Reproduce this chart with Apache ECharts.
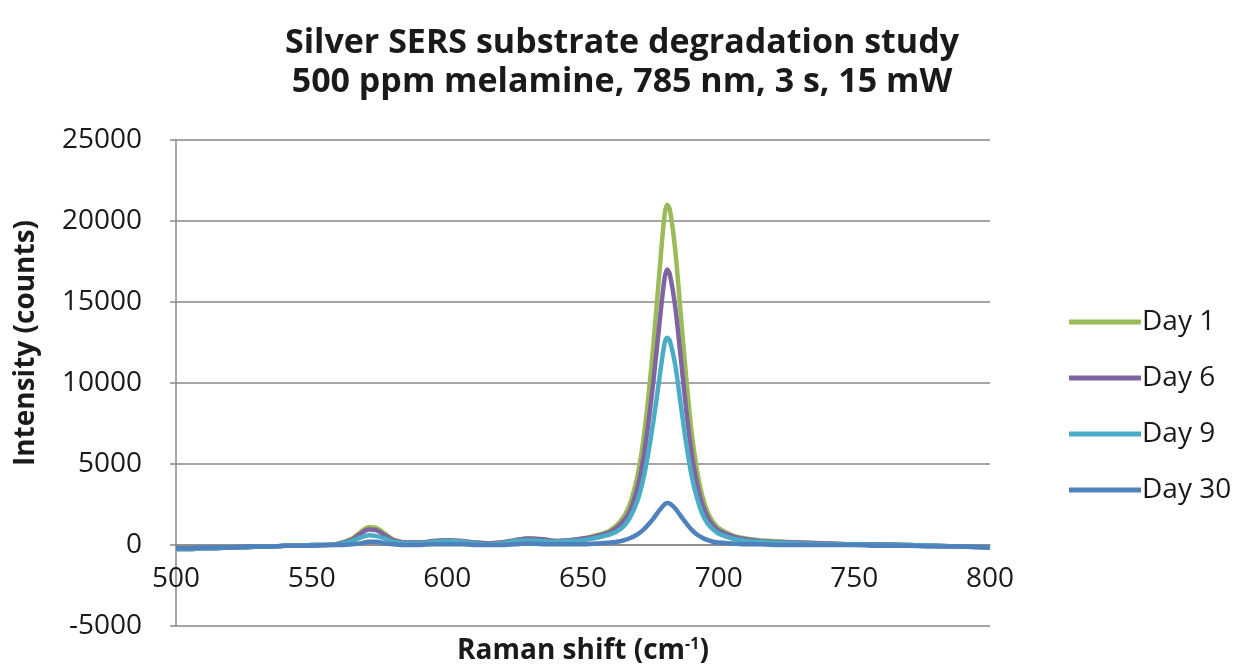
<!DOCTYPE html>
<html>
<head>
<meta charset="utf-8">
<script src="https://cdn.jsdelivr.net/npm/echarts@6/dist/echarts.min.js"></script>
<style>
  html, body { margin: 0; padding: 0; background: #fff; }
  #chart { width: 1244px; height: 666px; }
</style>
</head>
<body>
<div id="chart"></div>
<script>
// Raman shift positions (cm-1)
const shifts = [500, 505, 510, 515, 520, 525, 530, 535, 540, 545, 550, 555, 560,
  565, 568, 571, 574, 577, 580,
  585, 590, 595, 600, 605, 610, 615, 620, 625, 630, 635, 640, 645, 650, 655, 660,
  664, 667, 670, 672, 674, 676, 678, 680, 681, 682, 684, 686, 688, 690, 692, 694, 696, 698,
  700, 705, 710, 715, 720, 730, 740, 750, 760, 770, 780, 790, 800]

const day1 = [-250, -250, -200, -200, -150, -150, -100, -100, -50, -50, 0, 0, 100,
  400, 800, 1100, 1050, 700, 350,
  150, 150, 250, 300, 250, 150, 100, 150, 300, 400, 350, 250, 300, 400, 600, 900,
  1500, 2400, 4200, 6200, 9000, 12500, 16500, 20300, 21000, 20700, 18200, 14300, 10400, 7000, 4600, 3000, 2000, 1400,
  1050, 600, 400, 300, 250, 150, 100, 50, 50, 0, -50, -100, -150]

const day6 = [-250, -250, -200, -200, -150, -150, -100, -100, -50, -50, 0, 0, 80,
  350, 700, 950, 900, 600, 300,
  150, 150, 250, 300, 250, 150, 100, 150, 300, 400, 350, 250, 300, 400, 550, 800,
  1300, 2000, 3500, 5100, 7400, 10200, 13400, 16400, 17000, 16700, 14700, 11600, 8400, 5700, 3800, 2500, 1700, 1200,
  900, 550, 350, 250, 200, 150, 100, 50, 50, 0, -50, -100, -150]

const day9 = [-250, -250, -200, -200, -150, -150, -100, -100, -50, -50, 0, 0, 50,
  250, 450, 600, 550, 400, 200,
  100, 100, 200, 250, 200, 100, 50, 100, 250, 300, 250, 200, 250, 300, 450, 650,
  1000, 1600, 2700, 3900, 5600, 7700, 10100, 12400, 12800, 12600, 11100, 8700, 6300, 4300, 2900, 1900, 1300, 950,
  700, 400, 250, 200, 150, 100, 50, 50, 0, 0, -50, -100, -150]

const day30 = [-200, -200, -150, -150, -150, -100, -100, -100, -50, -50, -50, 0, 0,
  50, 100, 200, 200, 100, 50,
  0, 0, 50, 50, 50, 0, 0, 0, 50, 100, 50, 50, 50, 50, 100, 150,
  250, 400, 650, 900, 1250, 1650, 2100, 2500, 2600, 2550, 2250, 1800, 1350, 950, 650, 450, 300, 200,
  150, 100, 50, 50, 0, 0, 0, 0, -50, -50, -100, -100, -150]

const seriesNames = ['Day 1', 'Day 6', 'Day 9', 'Day 30']
const seriesValues = [day1, day6, day9, day30]
const colors = ['#9BBB59', '#8064A2', '#4BACC6', '#4F81BD']

const titleText = 'Silver SERS substrate degradation study\n500 ppm melamine, 785 nm, 3 s, 15 mW'
const xName = 'Raman shift (cm{sup|-1})'
const yName = 'Intensity (counts)'

const font = '"Open Sans", Lato, sans-serif'
const textColor = '#1a1a1a'
const gridColor = '#888888'

const myChart = echarts.init(document.getElementById('chart'), null, { renderer: 'canvas' })

const option = {
  animation: false,
  color: colors,
  textStyle: { fontFamily: font },
  title: {
    text: titleText,
    left: 'center',
    top: 19,
    textStyle: {
      fontFamily: font,
      fontSize: 34,
      fontWeight: 'bold',
      color: textColor,
      lineHeight: 39
    }
  },
  legend: {
    orient: 'vertical',
    left: 1064,
    top: 303,
    icon: 'rect',
    itemWidth: 72,
    itemHeight: 5,
    itemGap: 28,
    textStyle: {
      fontFamily: font,
      fontSize: 28,
      color: textColor,
      padding: [0, 0, 0, -4]
    },
    data: seriesNames
  },
  grid: {
    left: 176,
    right: 254,
    top: 140,
    bottom: 40,
    outerBoundsMode: 'none'
  },
  xAxis: {
    type: 'value',
    min: 500,
    max: 800,
    interval: 50,
    // axis crosses at y = 0 (one 5000 step above the bottom of the plot)
    offset: -81,
    name: xName,
    nameLocation: 'middle',
    nameGap: 91,
    nameTextStyle: {
      fontFamily: font,
      fontSize: 28,
      fontWeight: 'bold',
      color: textColor,
      rich: {
        sup: { fontFamily: font, fontSize: 16, fontWeight: 'bold', color: textColor, padding: [0, 0, 14, 0] }
      }
    },
    axisLine: { onZero: false, lineStyle: { color: gridColor, width: 1.5 } },
    axisTick: { show: false },
    axisLabel: {
      fontFamily: font,
      fontSize: 28,
      color: textColor,
      margin: 20,
      formatter: (value) => String(value)
    },
    splitLine: { show: false }
  },
  yAxis: {
    type: 'value',
    min: -5000,
    max: 25000,
    interval: 5000,
    name: yName,
    nameLocation: 'middle',
    nameGap: 136,
    nameRotate: 90,
    nameTextStyle: {
      fontFamily: font,
      fontSize: 28,
      fontWeight: 'bold',
      color: textColor,
      padding: [0, 0, 0, 80]
    },
    axisLine: { show: true, onZero: false, lineStyle: { color: gridColor, width: 1.5 } },
    axisTick: { show: true, inside: false, length: 6, lineStyle: { color: gridColor, width: 1.5 } },
    axisLabel: {
      fontFamily: font,
      fontSize: 28,
      color: textColor,
      margin: 34,
      formatter: (value) => String(value)
    },
    splitLine: { show: true, lineStyle: { color: gridColor, width: 1.5 } }
  },
  series: seriesNames.map((name, index) => {
    return {
      name: name,
      type: 'line',
      data: shifts.map((x, i) => [x, seriesValues[index][i]]),
      symbol: 'none',
      smooth: 0.3,
      lineStyle: { width: 4.5, color: colors[index] },
      itemStyle: { color: colors[index] }
    }
  })
}

myChart.setOption(option)
</script>
</body>
</html>
